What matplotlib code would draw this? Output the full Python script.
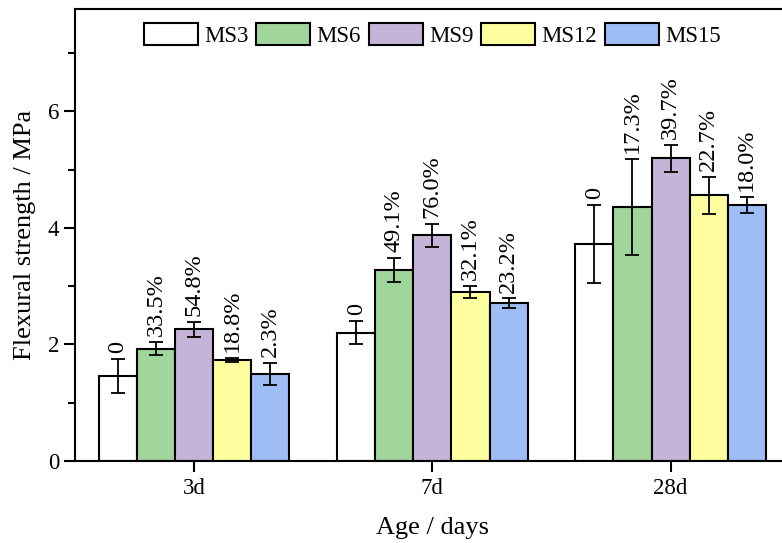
import matplotlib
matplotlib.use("Agg")
import matplotlib.pyplot as plt
import numpy as np
from matplotlib.ticker import MultipleLocator

plt.rcParams['font.family'] = ['Liberation Serif', 'DejaVu Serif']
plt.rcParams['mathtext.fontset'] = 'stix'

ages = ['3d', '7d', '28d']
series = ['MS3', 'MS6', 'MS9', 'MS12', 'MS15']
colors = ['#ffffff', '#a0d69b', '#c5b4d7', '#ffffa0', '#9ebdf5']

values = {
    'MS3':  [1.46, 2.20, 3.72],
    'MS6':  [1.93, 3.28, 4.36],
    'MS9':  [2.26, 3.87, 5.19],
    'MS12': [1.73, 2.90, 4.56],
    'MS15': [1.49, 2.71, 4.39],
}
errors = {
    'MS3':  [0.29, 0.20, 0.67],
    'MS6':  [0.12, 0.21, 0.82],
    'MS9':  [0.13, 0.20, 0.23],
    'MS12': [0.035, 0.10, 0.32],
    'MS15': [0.19, 0.08, 0.14],
}
labels = {
    'MS3':  ['0', '0', '0'],
    'MS6':  ['33.5%', '49.1%', '17.3%'],
    'MS9':  ['54.8%', '76.0%', '39.7%'],
    'MS12': ['18.8%', '32.1%', '22.7%'],
    'MS15': ['2.3%', '23.2%', '18.0%'],
}

fig = plt.figure(figsize=(7.82, 5.43), dpi=100)
ax = fig.add_axes([0.0959, 0.151, 0.914, 0.832])

x = np.arange(len(ages))
w = 0.16
fs_tick = 16.5
fs_lab = 19
fs_ann = 17.5
fs_leg = 16.5
for i, s in enumerate(series):
    xs = x + (i - 2) * w
    ax.bar(xs, values[s], width=w, color=colors[i], edgecolor='black',
           linewidth=1.5, label=s, zorder=2)
    ax.errorbar(xs, values[s], yerr=errors[s], fmt='none', ecolor='black',
                elinewidth=1.3, capsize=5, capthick=1.3, zorder=3)
    for xi, v, e, t in zip(xs, values[s], errors[s], labels[s]):
        ax.text(xi, v + e + 0.1, t, rotation=90, ha='center', va='bottom',
                fontsize=fs_ann)

ax.set_xlim(-0.5, 2.5)
ax.set_ylim(0, 7.75)
ax.set_xticks(x)
ax.set_xticklabels(ages)
ax.yaxis.set_major_locator(MultipleLocator(2))
ax.yaxis.set_minor_locator(MultipleLocator(1))
ax.tick_params(axis='both', which='major', labelsize=fs_tick, length=8, width=1.5,
               direction='out')
ax.tick_params(axis='y', which='minor', length=5, width=1.5, direction='out')
ax.tick_params(axis='x', which='major', length=8, pad=4)
for sp in ax.spines.values():
    sp.set_linewidth(1.5)
ax.spines['right'].set_visible(False)

ax.set_xlabel('Age / days', fontsize=fs_lab, labelpad=13)
ax.set_ylabel('Flexural strength / MPa', fontsize=fs_lab, labelpad=8)

ax.legend(loc='upper center', bbox_to_anchor=(0.5, 1.0), ncol=5, frameon=False,
          fontsize=fs_leg, handlelength=2.35, handleheight=1.1, handletextpad=0.27,
          columnspacing=0.35, borderaxespad=0.2)

fig.savefig('out.png', dpi=100)
